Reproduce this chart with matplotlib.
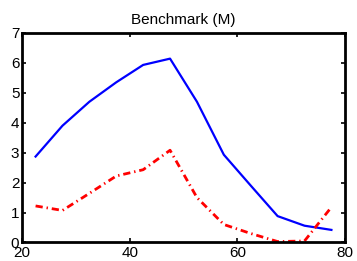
import matplotlib

matplotlib.use("Agg")

import matplotlib.pyplot as plt

# data
x_vals = [22.5, 27.5, 32.5, 37.5, 42.5, 47.5, 52.5, 57.5, 62.5, 67.5, 72.5, 77.5]
blue_vals = [2.87, 3.9, 4.7, 5.35, 5.93, 6.14, 4.7, 2.93, 1.9, 0.88, 0.56, 0.42]
red_vals = [1.22, 1.07, 1.64, 2.22, 2.43, 3.08, 1.5, 0.6, 0.3, 0.03, 0.05, 1.18]

x_ticks = [20, 40, 60, 80]
y_ticks = [0, 1, 2, 3, 4, 5, 6, 7]

plt.rcParams["font.family"] = ["Liberation Sans", "DejaVu Sans"]

fig = plt.figure(figsize=(3.57, 2.61), dpi=100)
ax = fig.add_axes([0.062, 0.071, 0.904, 0.803])

ax.plot(x_vals, blue_vals, color="#0000ff", linewidth=1.6)
ax.plot(x_vals, red_vals, color="#ff0000", linewidth=2.0,
        linestyle=(0, (2.6, 1.4, 0.5, 1.4)))

ax.set_xlim(20, 80)
ax.set_ylim(0, 7)
ax.set_xticks(x_ticks)
ax.set_yticks(y_ticks)
ax.tick_params(direction="in", length=3, width=1.2, top=True, right=True,
               labelsize=11)
ax.tick_params(axis="x", pad=2.5)
ax.tick_params(axis="y", pad=2)
for s in ax.spines.values():
    s.set_linewidth(2.0)

ax.set_title("Benchmark (M)", fontsize=11, pad=6.5)

fig.savefig("out.png", dpi=100)
